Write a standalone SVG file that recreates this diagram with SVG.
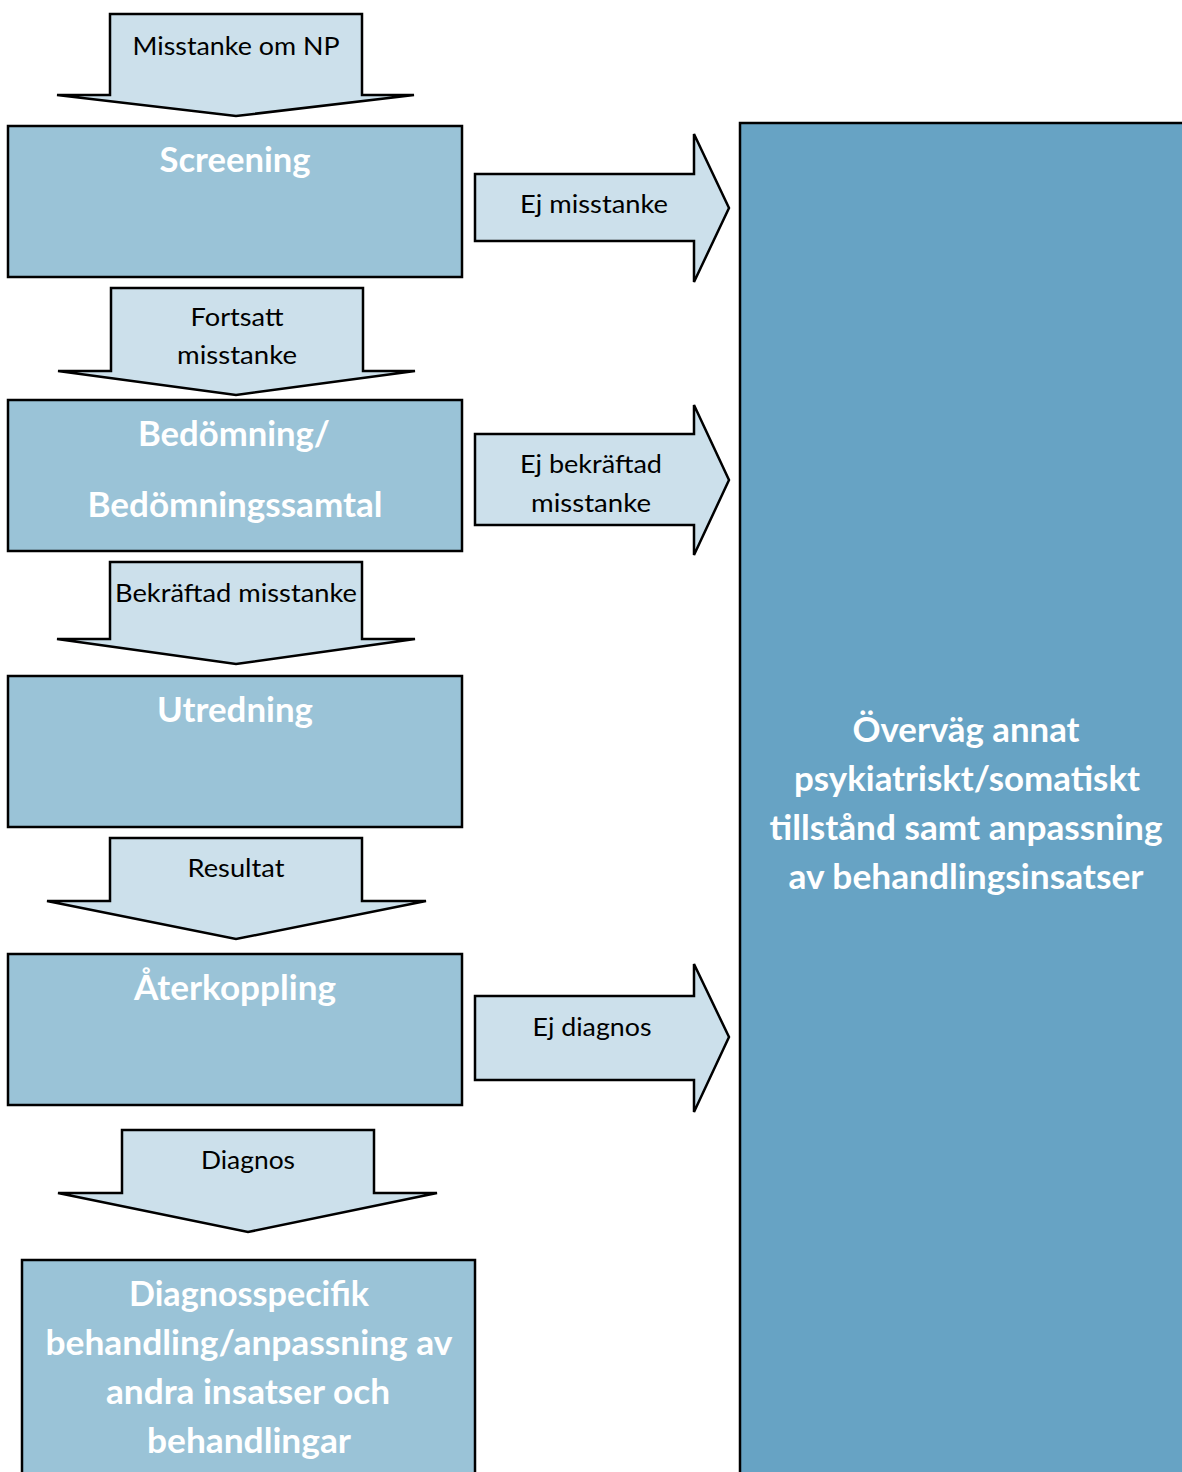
<svg xmlns="http://www.w3.org/2000/svg" width="1182" height="1472" viewBox="0 0 1182 1472">
<defs>
<style>
.arr{fill:#CCE0EB;stroke:#000;stroke-width:2.5;stroke-linejoin:miter}
.box{fill:#9AC3D7;stroke:#000;stroke-width:2.5}
.big{fill:#67A3C4;stroke:#000;stroke-width:2.5}
.lbl{font-family:Lato,"Open Sans",sans-serif;font-size:25px;fill:#000;text-anchor:middle}
.ttl{font-family:Lato,"Open Sans",sans-serif;font-size:34px;font-weight:bold;fill:#fff;text-anchor:middle}
</style>
</defs>
<rect width="1182" height="1472" fill="#fff"/>
<g id="connectors">
<g id="a1"><polygon class="arr" points="110,14 362,14 362,95 414,95 236,116 57,95 110,95"/><text class="lbl" x="236" y="55" textLength="207" lengthAdjust="spacingAndGlyphs">Misstanke om NP</text></g>
<g id="a2"><polygon class="arr" points="111,288 363,288 363,371 415,371 236,395 58,371 111,371"/><text class="lbl" x="237" y="326" textLength="93" lengthAdjust="spacingAndGlyphs">Fortsatt</text><text class="lbl" x="237" y="364" textLength="120" lengthAdjust="spacingAndGlyphs">misstanke</text></g>
<g id="a3"><polygon class="arr" points="110,562 362,562 362,639 415,639 236,664 57,639 110,639"/><text class="lbl" x="236" y="602" textLength="242" lengthAdjust="spacingAndGlyphs">Bekräftad misstanke</text></g>
<g id="a4"><polygon class="arr" points="110,838 362,838 362,901 426,901 236,939 47,901 110,901"/><text class="lbl" x="236" y="877" textLength="97" lengthAdjust="spacingAndGlyphs">Resultat</text></g>
<g id="a5"><polygon class="arr" points="122,1130 374,1130 374,1193 437,1193 248,1232 58,1193 122,1193"/><text class="lbl" x="248" y="1169" textLength="94" lengthAdjust="spacingAndGlyphs">Diagnos</text></g>
<g id="r1"><polygon class="arr" points="475,174 694,174 694,134 729,208 694,282 694,241 475,241"/><text class="lbl" x="594" y="213" textLength="148" lengthAdjust="spacingAndGlyphs">Ej misstanke</text></g>
<g id="r2"><polygon class="arr" points="475,434 694,434 694,405 729,480 694,555 694,525 475,525"/><text class="lbl" x="591" y="473" textLength="142" lengthAdjust="spacingAndGlyphs">Ej bekräftad</text><text class="lbl" x="591" y="512" textLength="120" lengthAdjust="spacingAndGlyphs">misstanke</text></g>
<g id="r3"><polygon class="arr" points="475,996 694,996 694,964 729,1037 694,1112 694,1080 475,1080"/><text class="lbl" x="592" y="1036" textLength="119" lengthAdjust="spacingAndGlyphs">Ej diagnos</text></g>
</g>
<g id="screening"><rect class="box" x="8" y="126" width="454" height="151"/><text class="ttl" x="235" y="172" textLength="151" lengthAdjust="spacingAndGlyphs">Screening</text></g>
<g id="bedomning"><rect class="box" x="8" y="400" width="454" height="151"/><text class="ttl" x="234" y="446" textLength="192" lengthAdjust="spacingAndGlyphs">Bedömning/</text><text class="ttl" x="235" y="517" textLength="295" lengthAdjust="spacingAndGlyphs">Bedömningssamtal</text></g>
<g id="utredning"><rect class="box" x="8" y="676" width="454" height="151"/><text class="ttl" x="235" y="722" textLength="156" lengthAdjust="spacingAndGlyphs">Utredning</text></g>
<g id="aterkoppling"><rect class="box" x="8" y="954" width="454" height="151"/><text class="ttl" x="235" y="1000" textLength="202" lengthAdjust="spacingAndGlyphs">Återkoppling</text></g>
<g id="behandling"><rect class="box" x="22" y="1260" width="453" height="230"/><text class="ttl" x="249" y="1306" textLength="240" lengthAdjust="spacingAndGlyphs">Diagnosspecifik</text><text class="ttl" x="249" y="1355" textLength="407" lengthAdjust="spacingAndGlyphs">behandling/anpassning av</text><text class="ttl" x="248" y="1404" textLength="284" lengthAdjust="spacingAndGlyphs">andra insatser och</text><text class="ttl" x="249" y="1453" textLength="204" lengthAdjust="spacingAndGlyphs">behandlingar</text></g>
<g id="overvag"><rect class="big" x="740" y="123" width="460" height="1370"/><text class="ttl" x="966" y="742" textLength="227" lengthAdjust="spacingAndGlyphs">Överväg annat</text><text class="ttl" x="967" y="791" textLength="346" lengthAdjust="spacingAndGlyphs">psykiatriskt/somatiskt</text><text class="ttl" x="966" y="840" textLength="393" lengthAdjust="spacingAndGlyphs">tillstånd samt anpassning</text><text class="ttl" x="966" y="889" textLength="355" lengthAdjust="spacingAndGlyphs">av behandlingsinsatser</text></g>
</svg>
